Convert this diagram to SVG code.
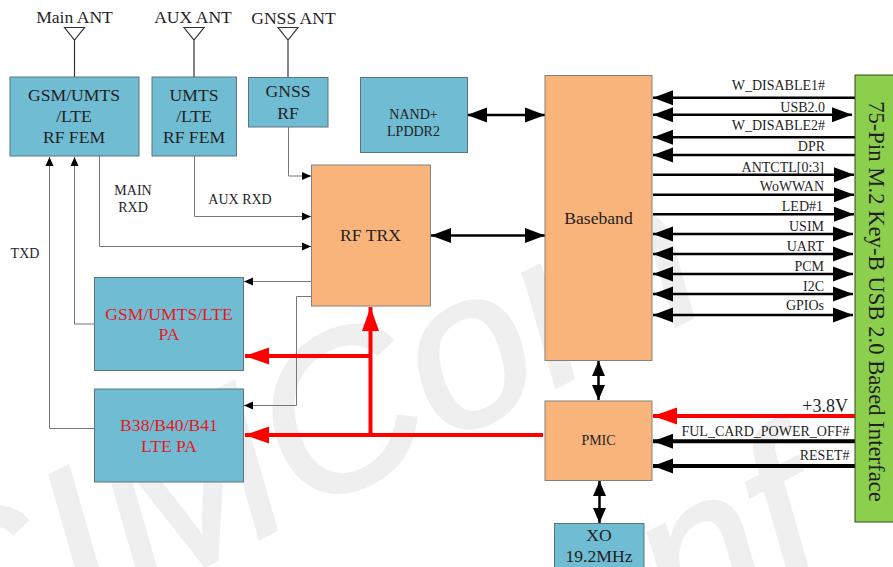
<svg xmlns="http://www.w3.org/2000/svg" width="893" height="567" viewBox="0 0 893 567">
<style>
text{font-family:"Liberation Serif","Times New Roman",serif;fill:#1f1f1f;text-anchor:middle}
.blue{fill:#70bcd2;stroke:#5d7480;stroke-width:1}
.org{fill:#f9b47c;stroke:#84807a;stroke-width:1}
.thin{fill:none;stroke:#777;stroke-width:1}
.ant{fill:none;stroke:#333;stroke-width:1.2}
.bus{fill:none;stroke:#000;stroke-width:2.5}
.heavy{fill:none;stroke:#000;stroke-width:4}
.red{fill:none;stroke:#f00;stroke-width:4}
.t18{font-size:17.6px}.t14{font-size:14px}
.pa{font-size:17.6px;fill:#e8171f}
.r{text-anchor:end}
.wm{font-family:"Liberation Sans",sans-serif;font-size:220px;font-style:italic;fill:#efefef;stroke:#efefef;stroke-width:3;text-anchor:start}
</style>
<defs>
<marker id="s" markerUnits="userSpaceOnUse" markerWidth="10" markerHeight="10" refX="9" refY="5" orient="auto-start-reverse"><path d="M0,1L9,5L0,9Z" fill="#000"/></marker>
<marker id="b" markerUnits="userSpaceOnUse" markerWidth="20" markerHeight="16" refX="20" refY="8" orient="auto-start-reverse"><path d="M0,0.500L20,8L0,15.500Z" fill="#000"/></marker>
<marker id="v" markerUnits="userSpaceOnUse" markerWidth="15" markerHeight="14" refX="15" refY="7" orient="auto-start-reverse"><path d="M0,0.500L15,7L0,13.500Z" fill="#000"/></marker>
<marker id="rm" markerUnits="userSpaceOnUse" markerWidth="25" markerHeight="18" refX="24" refY="9" orient="auto"><path d="M0,0.500L24,9L0,17.500Z" fill="#f00"/></marker>
</defs>
<rect width="893" height="567" fill="#fff"/>
<g id="watermark">
<text class="wm" transform="translate(-46 694) rotate(-27)">SIMCom</text>
<text class="wm" transform="translate(678 648) rotate(-27)">nf</text>
</g>
<g id="connectors">
<path class="ant" d="M74.500 27.500H84.500L74.500 40L64.500 27.500ZM74.500 40V77"/>
<path class="ant" d="M194 27.500H204L194 40L184 27.500ZM194 40V77"/>
<path class="ant" d="M288 27.500H298L288 40L278 27.500ZM288 40V77"/>
<path class="thin" marker-end="url(#s)" d="M288.500 127V176H311"/>
<path class="thin" marker-end="url(#s)" d="M194.500 156V216.500H311"/>
<path class="thin" marker-end="url(#s)" d="M99.500 156V246.500H311"/>
<path class="thin" marker-end="url(#s)" d="M94.500 324H74.500V157"/>
<path class="thin" marker-end="url(#s)" d="M94.500 428.500H49.500V157"/>
<path class="thin" marker-end="url(#s)" d="M311 281.500H244"/>
<path class="thin" marker-end="url(#s)" d="M311 296.500H296.500V405.500H244"/>
<path class="bus" marker-start="url(#b)" marker-end="url(#b)" d="M467 115H545"/>
<path class="bus" marker-start="url(#b)" marker-end="url(#b)" d="M431 235.500H545"/>
<path class="bus" marker-start="url(#v)" marker-end="url(#v)" d="M598.500 361V400"/>
<path class="bus" marker-start="url(#v)" marker-end="url(#v)" d="M599.500 481V523"/>
<path class="bus" marker-end="url(#b)" d="M855 97.700H653"/>
<path class="bus" marker-start="url(#b)" marker-end="url(#b)" d="M852 114.700H653"/>
<path class="bus" marker-end="url(#b)" d="M855 137.300H653"/>
<path class="bus" marker-end="url(#b)" d="M855 155H653"/>
<path class="bus" marker-end="url(#b)" d="M653 174.700H854"/>
<path class="bus" marker-end="url(#b)" d="M653 194.700H854"/>
<path class="bus" marker-end="url(#b)" d="M653 214.300H854"/>
<path class="bus" marker-start="url(#b)" marker-end="url(#b)" d="M653 234H853"/>
<path class="bus" marker-start="url(#b)" marker-end="url(#b)" d="M653 254H853"/>
<path class="bus" marker-start="url(#b)" marker-end="url(#b)" d="M653 274H853"/>
<path class="bus" marker-start="url(#b)" marker-end="url(#b)" d="M653 294H853"/>
<path class="bus" marker-start="url(#b)" marker-end="url(#b)" d="M653 315H853"/>
<path class="red" marker-end="url(#rm)" d="M855 416H653"/>
<path class="heavy" marker-end="url(#b)" d="M855 441.300H653"/>
<path class="heavy" marker-end="url(#b)" d="M855 466H653"/>
<path class="red" marker-end="url(#rm)" d="M543 435H245"/>
<path class="red" marker-end="url(#rm)" d="M370.500 435V307"/>
<path class="red" marker-end="url(#rm)" d="M370.500 356H245"/>
</g>
<g id="fem1"><rect class="blue" x="10" y="77" width="129" height="79"/><text class="t18" x="74" y="101">GSM/UMTS</text><text class="t18" x="74" y="122">/LTE</text><text class="t18" x="74" y="143">RF FEM</text></g>
<g id="fem2"><rect class="blue" x="152" y="77" width="84.500" height="79"/><text class="t18" x="194" y="101">UMTS</text><text class="t18" x="194" y="122">/LTE</text><text class="t18" x="194" y="143">RF FEM</text></g>
<g id="gnss"><rect class="blue" x="248.500" y="77.500" width="79.500" height="49.500"/><text class="t18" x="288" y="97">GNSS</text><text class="t18" x="288" y="119">RF</text></g>
<g id="nand"><rect class="blue" x="360.500" y="77.500" width="107" height="75"/><text class="t14" x="413.500" y="119">NAND+</text><text class="t14" x="413.500" y="136">LPDDR2</text></g>
<g id="rftrx"><rect class="org" x="311.500" y="165" width="119" height="141"/><text class="t18" x="370.500" y="241">RF TRX</text></g>
<g id="pa1"><rect class="blue" x="94.500" y="277.500" width="149" height="93"/><text class="pa" x="169" y="320">GSM/UMTS/LTE</text><text class="pa" x="169" y="340">PA</text></g>
<g id="pa2"><rect class="blue" x="94.500" y="389" width="149" height="93"/><text class="pa" x="169" y="431">B38/B40/B41</text><text class="pa" x="169" y="452">LTE PA</text></g>
<g id="baseband"><rect class="org" x="545" y="75.500" width="107" height="285"/><text class="t18" x="598.500" y="224">Baseband</text></g>
<g id="pmic"><rect class="org" x="545" y="401" width="107" height="79.500"/><text class="t14" x="598.500" y="445">PMIC</text></g>
<g id="xo"><rect class="blue" x="554.500" y="523.500" width="89.500" height="50"/><text class="t18" x="599" y="541">XO</text><text class="t18" x="599" y="562">19.2MHz</text></g>
<g id="m2"><rect x="855" y="75" width="39" height="447" fill="#8ccf4d" stroke="#2e4a1e" stroke-width="1"/><text style="font-size:22.700px" transform="translate(868.500 301.500) rotate(90)">75-Pin M.2 Key-B USB 2.0 Based Interface</text></g>
<g id="labels">
<text class="t18" x="74.500" y="23">Main ANT</text>
<text class="t18" x="193" y="23">AUX ANT</text>
<text class="t18" x="293.500" y="24">GNSS ANT</text>
<text class="t14" x="133" y="195">MAIN</text><text class="t14" x="133" y="212">RXD</text>
<text class="t14" x="240" y="204">AUX RXD</text>
<text class="t14" x="25" y="258">TXD</text>
<text class="r t14" x="825" y="90">W_DISABLE1#</text>
<text class="r t14" x="825" y="112">USB2.0</text>
<text class="r t14" x="825" y="130">W_DISABLE2#</text>
<text class="r t14" x="825" y="151">DPR</text>
<text class="r t14" x="824" y="171.500">ANTCTL[0:3]</text>
<text class="r t14" x="824" y="191">WoWWAN</text>
<text class="r t14" x="823" y="211">LED#1</text>
<text class="r t14" x="824" y="231">USIM</text>
<text class="r t14" x="824" y="251">UART</text>
<text class="r t14" x="824" y="271">PCM</text>
<text class="r t14" x="824" y="291">I2C</text>
<text class="r t14" x="824" y="310">GPIOs</text>
<text class="r" style="font-size:18px" x="848" y="411.500">+3.8V</text>
<text class="r t14" x="849.500" y="435.500">FUL_CARD_POWER_OFF#</text>
<text class="r t14" x="849.500" y="460">RESET#</text>
</g>
</svg>
